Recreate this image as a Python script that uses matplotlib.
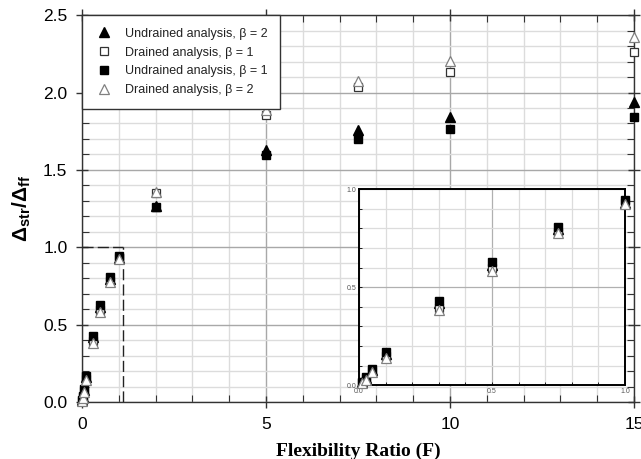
import numpy as np
import matplotlib
matplotlib.use("Agg")
import matplotlib.pyplot as plt
from matplotlib.ticker import MultipleLocator, FormatStrFormatter

plt.rcParams['font.family'] = ['Liberation Sans', 'DejaVu Sans']
plt.rcParams['mathtext.fontset'] = 'custom'
plt.rcParams['mathtext.rm'] = 'Liberation Sans'
plt.rcParams['mathtext.bf'] = 'Liberation Sans:bold'
plt.rcParams['mathtext.it'] = 'Liberation Sans:italic'

# ---- data ----
flex_ratio = [0.01, 0.025, 0.05, 0.1, 0.3, 0.5, 0.75, 1.0, 2, 5, 7.5, 10, 15]
undrained_b2 = [0.015, 0.035, 0.075, 0.16, 0.42, 0.615, 0.795, 0.93, 1.27, 1.63, 1.76, 1.84, 1.94]
drained_b1 = [0.01, 0.03, 0.07, 0.15, 0.395, 0.595, 0.78, 0.93, 1.35, 1.855, 2.033, 2.132, 2.261]
undrained_b1 = [0.015, 0.04, 0.082, 0.167, 0.43, 0.627, 0.806, 0.942, 1.259, 1.597, 1.70, 1.766, 1.843]
drained_b2 = [0.01, 0.028, 0.065, 0.14, 0.383, 0.58, 0.775, 0.925, 1.36, 1.887, 2.076, 2.203, 2.36]
series_labels = ["Undrained analysis, \u03b2 = 2", "Drained analysis, \u03b2 = 1",
                 "Undrained analysis, \u03b2 = 1", "Drained analysis, \u03b2 = 2"]
dashed_limit = 1.1

styles = [
    dict(marker='^', mfc='black', mec='black', ms=6.5),
    dict(marker='s', mfc='white', mec='#333333', ms=5.5, mew=0.9),
    dict(marker='s', mfc='black', mec='black', ms=5.5),
    dict(marker='^', mfc='white', mec='#808080', ms=6.5, mew=0.9),
]
all_series = [undrained_b2, drained_b1, undrained_b1, drained_b2]

fig = plt.figure(figsize=(6.41, 4.59), dpi=100)
ax = fig.add_axes([0.128, 0.124, 0.861, 0.843])

x = np.array(flex_ratio)
for ys, st, lab in zip(all_series, styles, series_labels):
    ax.plot(x, ys, linestyle='none', label=lab, clip_on=False, zorder=5, **st)

ax.set_xlim(0, 15)
ax.set_ylim(0, 2.5)
ax.xaxis.set_major_locator(MultipleLocator(5))
ax.xaxis.set_minor_locator(MultipleLocator(1))
ax.yaxis.set_major_locator(MultipleLocator(0.5))
ax.yaxis.set_minor_locator(MultipleLocator(0.1))
ax.xaxis.set_major_formatter(FormatStrFormatter('%d'))
ax.yaxis.set_major_formatter(FormatStrFormatter('%.1f'))
ax.grid(which='major', color='#a8a8a8', linewidth=1.0, zorder=0)
ax.grid(which='minor', color='#dcdcdc', linewidth=1.0, zorder=0)
ax.set_axisbelow(True)
ax.tick_params(which='major', direction='inout', length=9, width=1, labelsize=12.5,
               top=True, right=True, color='#333333', pad=6)
ax.tick_params(which='minor', direction='in', length=5, width=0.8,
               top=True, right=True, color='#333333')
for sp in ax.spines.values():
    sp.set_color('#333333')
    sp.set_linewidth(1.0)

# dashed marker of inset region
ax.plot([dashed_limit, dashed_limit], [0, 1.0], color='#222222', linestyle=(0, (8, 3)), lw=1.0, zorder=3)
ax.plot([0, dashed_limit], [1.0, 1.0], color='#222222', linestyle=(0, (8, 3)), lw=1.0, zorder=3)

ax.set_xlabel("Flexibility Ratio (F)", fontsize=14, fontweight='bold',
              family='Liberation Serif', labelpad=8)
ax.set_ylabel(r"$\mathbf{\Delta_{str}/\Delta_{ff}}$", fontsize=15, labelpad=7)

leg = ax.legend(loc='upper left', bbox_to_anchor=(0, 1), borderaxespad=0,
                fontsize=9, frameon=True, fancybox=False, framealpha=1,
                edgecolor='#333333', handletextpad=0.9, borderpad=1.0,
                labelspacing=0.55, handlelength=1.5)
leg.get_frame().set_linewidth(1.0)
for t in leg.get_texts():
    t.set_color('#222222')
leg.set_zorder(10)

# ---- inset ----
ins = fig.add_axes([0.560, 0.161, 0.415, 0.427])
mask = x <= 1.0
for ys, st in zip(all_series, styles):
    ins.plot(x[mask], np.array(ys)[mask], linestyle='none', clip_on=False, zorder=5, **st)
ins.set_xlim(0, 1)
ins.set_ylim(0, 1)
ins.xaxis.set_major_locator(MultipleLocator(0.5))
ins.xaxis.set_minor_locator(MultipleLocator(0.1))
ins.yaxis.set_major_locator(MultipleLocator(0.5))
ins.yaxis.set_minor_locator(MultipleLocator(0.1))
ins.xaxis.set_major_formatter(FormatStrFormatter('%.1f'))
ins.yaxis.set_major_formatter(FormatStrFormatter('%.1f'))
ins.grid(which='major', color='#b0b0b0', linewidth=0.9)
ins.grid(which='minor', color='#dcdcdc', linewidth=0.9)
ins.set_axisbelow(True)
ins.tick_params(which='both', direction='in', length=2, width=0.6, labelsize=5,
                labelcolor='#555555', pad=2)
for sp in ins.spines.values():
    sp.set_color('black')
    sp.set_linewidth(1.4)

fig.savefig("out.png", dpi=100)
